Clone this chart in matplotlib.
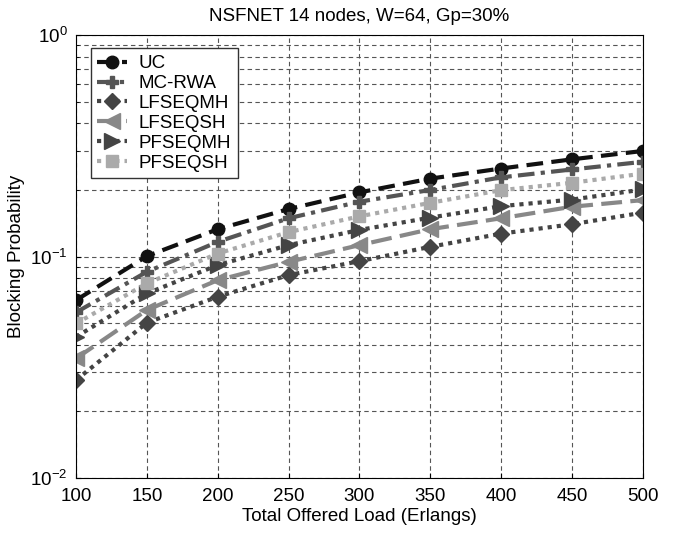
import matplotlib
matplotlib.use("Agg")
import matplotlib.pyplot as plt
from matplotlib.ticker import LogLocator, NullFormatter

plt.rcParams['font.family'] = ['Liberation Sans', 'DejaVu Sans']

load = [100, 150, 200, 250, 300, 350, 400, 450, 500]
uc = [0.0636, 0.1005, 0.133, 0.164, 0.195, 0.225, 0.250, 0.275, 0.300]
mc_rwa = [0.056, 0.0854, 0.1166, 0.149, 0.177, 0.200, 0.228, 0.2475, 0.268]
lfseqmh = [0.0277, 0.0503, 0.0659, 0.0825, 0.0954, 0.1107, 0.127, 0.140, 0.158]
lfseqsh = [0.0347, 0.0574, 0.0783, 0.0947, 0.1127, 0.133, 0.149, 0.168, 0.180]
pfseqmh = [0.0434, 0.0682, 0.0916, 0.1127, 0.132, 0.150, 0.169, 0.181, 0.201]
pfseqsh = [0.0499, 0.0757, 0.1033, 0.129, 0.152, 0.175, 0.1996, 0.2155, 0.237]
labels = ['UC', 'MC-RWA', 'LFSEQMH', 'LFSEQSH', 'PFSEQMH', 'PFSEQSH']
x_ticks = [100, 150, 200, 250, 300, 350, 400, 450, 500]

fig = plt.figure(figsize=(6.73, 5.33), dpi=100)
ax = fig.add_axes([0.113, 0.103, 0.842, 0.831])

styles = [
    dict(color='#111111', linestyle=(0, (4, 2)), marker='o', ms=9),
    dict(color='#555555', linestyle=(0, (4, 1.5, 1, 1.5)), marker='P', ms=9),
    dict(color='#444444', linestyle=(0, (1, 1.2)), marker='D', ms=8),
    dict(color='#888888', linestyle=(0, (5, 2)), marker='<', ms=11),
    dict(color='#444444', linestyle=(0, (1, 1.2)), marker='>', ms=11),
    dict(color='#aaaaaa', linestyle=(0, (1, 1.2)), marker='s', ms=9),
]
series = [uc, mc_rwa, lfseqmh, lfseqsh, pfseqmh, pfseqsh]
for y, lab, st in zip(series, labels, styles):
    ax.plot(load, y, label=lab, linewidth=3.0, color=st['color'],
            linestyle=st['linestyle'], marker=st['marker'],
            markerfacecolor=st['color'], markeredgecolor=st['color'],
            markersize=st['ms'])

ax.set_yscale('log')
ax.set_xlim(100, 500)
ax.set_ylim(1e-2, 1)
ax.set_xticks(x_ticks)
ax.yaxis.set_minor_locator(LogLocator(base=10, subs=range(2, 10)))
ax.yaxis.set_minor_formatter(NullFormatter())
ax.grid(True, which='major', linestyle=(0, (4, 3)), color='#555555', linewidth=0.8)
ax.grid(True, which='minor', axis='y', linestyle=(0, (4, 3)), color='#555555', linewidth=0.8)
ax.tick_params(which='both', direction='in', labelsize=13.5)
ax.tick_params(axis='x', which='major', pad=7)
ax.tick_params(axis='y', which='major', pad=6)
ax.tick_params(which='minor', length=2)

ax.set_title('NSFNET 14 nodes, W=64, Gp=30%', fontsize=13.5, pad=10)
ax.set_xlabel('Total Offered Load (Erlangs)', fontsize=13.5, labelpad=2)
ax.set_ylabel('Blocking Probability', fontsize=13.5, labelpad=4)

leg = ax.legend(loc='upper left', bbox_to_anchor=(0.026, 0.97), borderaxespad=0,
                fontsize=13.5, fancybox=False, edgecolor='#333333', framealpha=1,
                handlelength=1.6, handletextpad=0.6, borderpad=0.35,
                labelspacing=0.15)
leg.get_frame().set_linewidth(1.0)

fig.savefig('out.png', dpi=100)
